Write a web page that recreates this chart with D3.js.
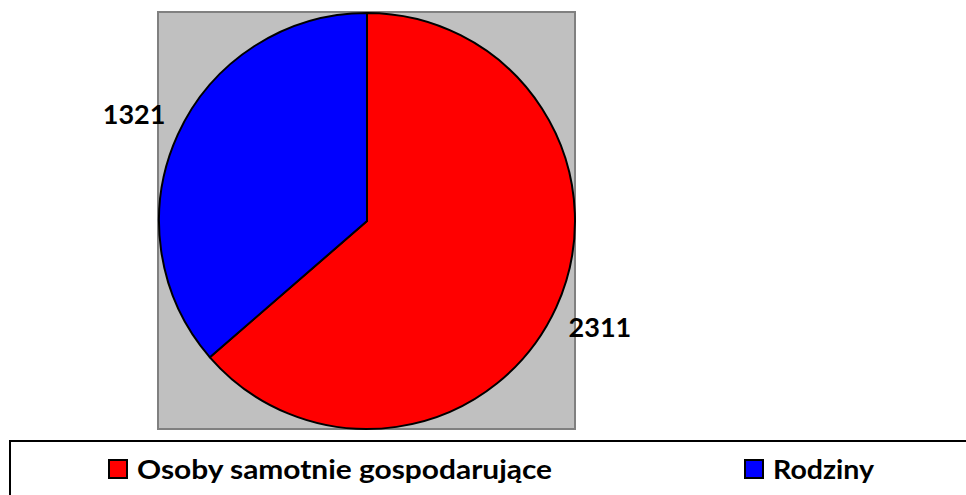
<!DOCTYPE html>
<html>
<head>
<meta charset="utf-8">
<script src="https://cdn.jsdelivr.net/npm/d3@7"></script>
<style>
  html, body { margin: 0; padding: 0; background: #fff; }
  svg { display: block; }
  text { font-family: Lato, "Open Sans", sans-serif; font-weight: bold; fill: #000; }
</style>
</head>
<body>
<svg width="966" height="495"></svg>
<script>
var categories = ["Osoby samotnie gospodarujące", "Rodziny"];
var values = [2311, 1321];
var colors = ["#ff0000", "#0000ff"];

var svg = d3.select("svg"),
    width = +svg.attr("width"),
    height = +svg.attr("height");

// plot area
svg.append("rect")
    .attr("x", 158).attr("y", 12)
    .attr("width", 417).attr("height", 417)
    .attr("fill", "#c0c0c0")
    .attr("stroke", "#808080")
    .attr("stroke-width", 2);

var cx = 367, cy = 221, r = 208;

var pie = d3.pie().sort(null).value(function(d) { return d; });
var arcs = pie(values);
var arc = d3.arc().innerRadius(0).outerRadius(r);
var labelArc = d3.arc().innerRadius(256).outerRadius(256);

var g = svg.append("g").attr("transform", "translate(" + cx + "," + cy + ")");

g.selectAll("path")
    .data(arcs)
    .enter().append("path")
    .attr("d", arc)
    .attr("fill", function(d, i) { return colors[i]; })
    .attr("stroke", "#000")
    .attr("stroke-width", 2)
    .attr("stroke-linejoin", "round");

g.selectAll("text.lbl")
    .data(arcs)
    .enter().append("text")
    .attr("class", "lbl")
    .attr("transform", function(d) { return "translate(" + labelArc.centroid(d) + ")"; })
    .attr("text-anchor", "middle")
    .attr("dy", "0.35em")
    .style("font-size", "27px")
    .text(function(d) { return d.value; });

// legend
svg.append("rect")
    .attr("x", 10).attr("y", 441)
    .attr("width", 1000).attr("height", 100)
    .attr("fill", "#fff")
    .attr("stroke", "#000")
    .attr("stroke-width", 2);

var legendX = [109, 745];
var legendW = [415, 101];

var item = svg.selectAll("g.item")
    .data(categories)
    .enter().append("g")
    .attr("class", "item")
    .attr("transform", function(d, i) { return "translate(" + legendX[i] + ",460)"; });

item.append("rect")
    .attr("width", 18).attr("height", 18)
    .attr("fill", function(d, i) { return colors[i]; })
    .attr("stroke", "#000")
    .attr("stroke-width", 2);

item.append("text")
    .attr("x", 28)
    .attr("y", 19)
    .style("font-size", "27px")
    .attr("textLength", function(d, i) { return legendW[i]; })
    .attr("lengthAdjust", "spacingAndGlyphs")
    .text(function(d) { return d; });
</script>
</body>
</html>
